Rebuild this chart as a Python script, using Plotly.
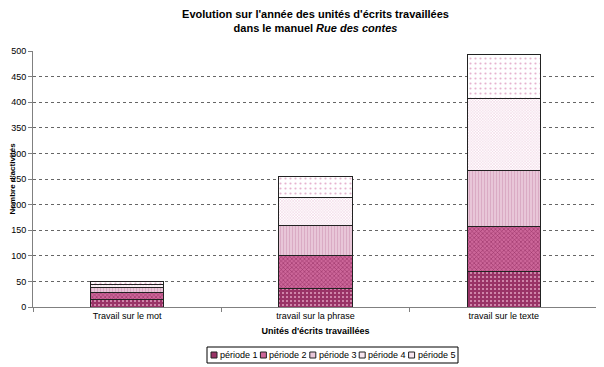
import plotly.graph_objects as go

categories = ["Travail sur le mot", "travail sur la phrase", "travail sur le texte"]
series_names = ["période 1", "période 2", "période 3", "période 4", "période 5"]
p1 = [15, 36, 69]
p2 = [14, 64, 88]
p3 = [9, 60, 110]
p4 = [6, 54, 141]
p5 = [5, 40, 85]
values = [p1, p2, p3, p4, p5]
yticks = [0, 50, 100, 150, 200, 250, 300, 350, 400, 450, 500]

styles = [
    dict(bg="#993366", fg="#E0A0C0", shape=".", size=4, sol=0.2),
    dict(bg="#CC6699", fg="#993366", shape="x", size=3, sol=0.35),
    dict(bg="#E8C6D8", fg="#D8A8C2", shape="|", size=3, sol=0.3),
    dict(bg="#FFFFFF", fg="#E6B0CC", shape="x", size=2, sol=0.3),
    dict(bg="#FFFFFF", fg="#E6B3CF", shape=".", size=5, sol=0.15),
]

# The page body adds an 8px offset; the figure is sized to fit the window.
OFF = 8
W, H = 604 - OFF, 367 - OFF
ML, MR, MT, MB = 33 - OFF, 6, 51 - OFF, 60
PW, PH = W - ML - MR, H - MT - MB

def px_x(px):
    return (px - OFF - ML) / PW

def px_y(py):
    return (H - MB - (py - OFF)) / PH

fig = go.Figure()
for name, vals, st in zip(series_names, values, styles):
    fig.add_trace(go.Bar(
        x=categories, y=vals, name=name,
        marker=dict(
            color=st["bg"],
            line=dict(color="#222222", width=1),
            pattern=dict(shape=st["shape"], fgcolor=st["fg"], bgcolor=st["bg"],
                         size=st["size"], solidity=st["sol"], fillmode="replace"),
        ),
        width=0.39,
        showlegend=False,
    ))

font = "Liberation Sans, Arial, sans-serif"

# Compact legend box (Excel-style) built from the series names
box_l, box_r, box_t, box_b = 207, 458, 347, 363
fig.add_shape(type="rect", xref="paper", yref="paper",
              x0=px_x(box_l), x1=px_x(box_r), y0=px_y(box_b), y1=px_y(box_t),
              line=dict(color="#000000", width=1), fillcolor="white", layer="above")
pitch = (box_r - box_l - 4) / len(series_names)
for i, (name, st) in enumerate(zip(series_names, styles)):
    sx = box_l + 4 + i * pitch
    cy = (box_t + box_b) / 2
    fig.add_shape(type="rect", xref="paper", yref="paper",
                  x0=px_x(sx), x1=px_x(sx + 6), y0=px_y(cy + 3), y1=px_y(cy - 3),
                  line=dict(color="#222222", width=1),
                  fillcolor=st["bg"] if st["bg"] != "#FFFFFF" else "#F6E4EE",
                  layer="above")
    fig.add_annotation(xref="paper", yref="paper", x=px_x(sx + 7), y=px_y(cy),
                       xanchor="left", yanchor="middle", text=name, showarrow=False,
                       font=dict(family=font, size=9, color="#000000"))

fig.update_layout(
    barmode="stack",
    width=W, height=H,
    paper_bgcolor="white", plot_bgcolor="white",
    margin=dict(l=ML, r=MR, t=MT, b=MB, autoexpand=False),
    font=dict(family=font, size=9, color="#000000"),
    title=dict(
        text="<b>Evolution sur l'année des unités d'écrits travaillées<br>dans le manuel <i>Rue des contes</i></b>",
        x=0.5, xanchor="center", xref="paper", yref="container",
        y=1 - (20 - OFF - 2.5) / H, yanchor="middle",
        font=dict(family=font, size=11),
    ),
    xaxis=dict(
        showline=True, linecolor="#808080", linewidth=1,
        ticks="outside", tickson="boundaries", ticklen=4, tickcolor="#808080",
        title=dict(text="<b>Unités d'écrits travaillées</b>", font=dict(size=9), standoff=7),
        tickfont=dict(size=9), automargin=False,
    ),
    yaxis=dict(
        range=[0, 500], tickvals=yticks,
        showline=True, linecolor="#808080", linewidth=1,
        ticks="outside", ticklen=4, tickcolor="#808080",
        showgrid=True, gridcolor="#666666", griddash="dot", gridwidth=1,
        zeroline=False,
        title=dict(text="<b>Nombre d'activités</b>", font=dict(size=8), standoff=4),
        tickfont=dict(size=9), automargin=False,
    ),
    showlegend=False,
)

fig.write_html("out.html")
